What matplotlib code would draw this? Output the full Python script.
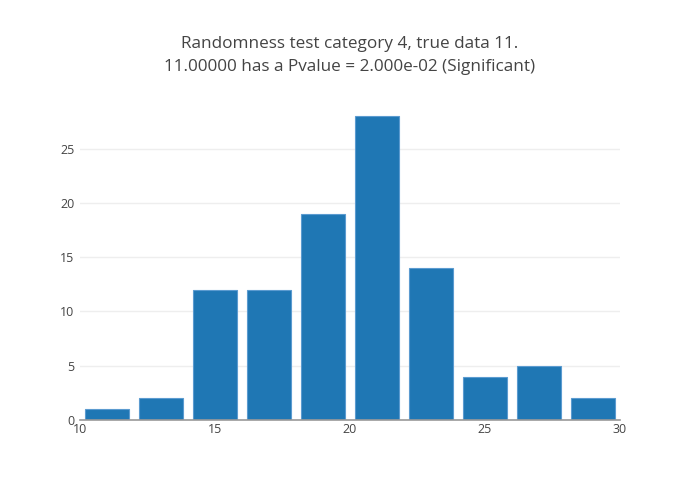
import matplotlib
matplotlib.use('Agg')
import matplotlib.pyplot as plt
import numpy as np

bin_edges = [10, 12, 14, 16, 18, 20, 22, 24, 26, 28, 30]
counts = [1, 2, 12, 12, 19, 28, 14, 4, 5, 2]
x_ticks = [10, 15, 20, 25, 30]
y_ticks = [0, 5, 10, 15, 20, 25]
title = 'Randomness test category 4, true data 11.\n11.00000 has a Pvalue = 2.000e-02 (Significant)'

plt.rcParams['font.family'] = ['Open Sans', 'DejaVu Sans']

fig = plt.figure(figsize=(7, 5), dpi=100)
ax = fig.add_axes([80 / 700, 0.16, 540 / 700, 0.64])

edges = np.array(bin_edges)
centers = (edges[:-1] + edges[1:]) / 2
widths = np.diff(edges) * 0.8
ax.bar(centers, counts, width=widths, color='#1f77b4', edgecolor='#5b9bd0',
       linewidth=0.8, zorder=3)

ax.set_xlim(bin_edges[0], bin_edges[-1])
ax.set_ylim(0, max(counts) * 1.0526)
ax.set_xticks(x_ticks)
ax.set_yticks(y_ticks)
ax.grid(axis='y', color='#eeeeee', linewidth=1, zorder=0)
for side in ['top', 'right', 'left']:
    ax.spines[side].set_visible(False)
ax.spines['bottom'].set_color('#999999')
ax.spines['bottom'].set_linewidth(1.2)
ax.spines['bottom'].set_zorder(4)
ax.tick_params(axis='both', length=0, labelsize=9, colors='#444444', pad=4)
ax.tick_params(axis='x', pad=2)

fig.text(0.5, 0.889, title, ha='center', va='center', fontsize=12.3,
         color='#444444', linespacing=1.55)

fig.savefig('out.png', dpi=100)
